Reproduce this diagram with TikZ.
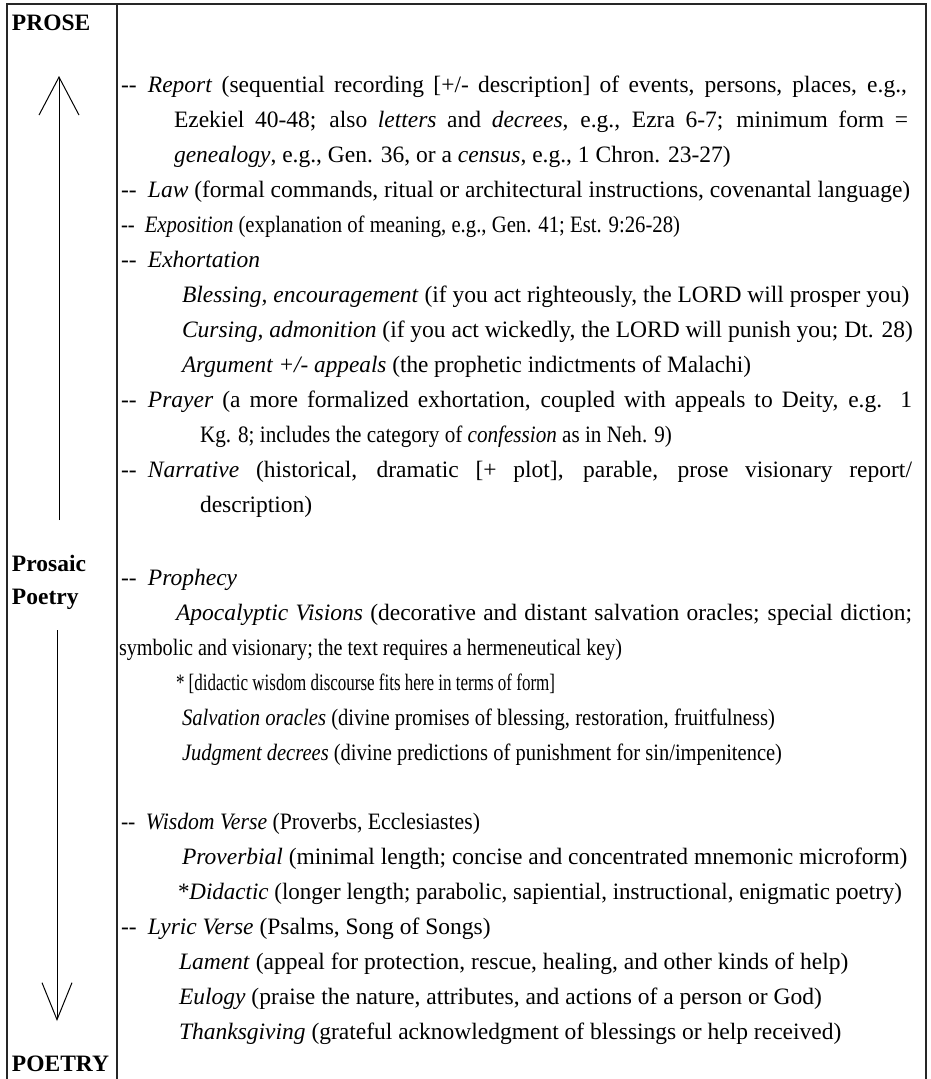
\documentclass[tikz,border=0pt]{standalone}
\usepackage{fontspec}
\setmainfont{Liberation Serif}
\usetikzlibrary{arrows.meta}
\newcommand\dgap{\hspace*{11.3pt}}
\newcommand\dd{-{}-}
\newcommand\bodyfont{\fontsize{23.5pt}{35pt}\selectfont}
\newcommand\lblfont{\fontsize{23.5pt}{35pt}\selectfont\bfseries}
\newcommand\just[2]{\makebox[#1][s]{#2}}
\newcommand\sq[2]{\resizebox{#1}{\height}{#2}}
\tikzset{
  txt/.style={anchor=base west, inner sep=0pt, outer sep=0pt, font=\bodyfont},
  lbl/.style={anchor=base west, inner sep=0pt, outer sep=0pt, font=\lblfont},
  frame/.style={line width=1.3pt, draw=black!85},
  axis/.style={line width=1pt, draw=black}
}
\begin{document}
\begin{tikzpicture}[x=1pt,y=-1pt]
\useasboundingbox (0,0) rectangle (930,1079);
% frame
\draw[frame] (7,1079) -- (7,4) -- (926,4) -- (926,1079);
\draw[frame] (117,4) -- (117,1079);
% labels
\node[lbl] (prose) at (12,30) {PROSE};
\node[lbl] (prosaic) at (12,571) {Prosaic};
\node[lbl] (poetry) at (12,604) {Poetry};
\node[lbl] (POETRY) at (12,1071) {POETRY};
% arrows
\coordinate (upTop) at (59,76);
\coordinate (upBot) at (59,520);
\coordinate (dnTop) at (57,630);
\coordinate (dnBot) at (57,1021);
\draw[axis,-{Straight Barb[length=38pt,width=40pt]}] (upBot) -- (upTop);
\draw[axis,-{Straight Barb[length=37pt,width=30pt]}] (dnTop) -- (dnBot);
% text lines
\node[txt] (l1) at (121,92) {\just{786pt}{\dd\dgap\textit{Report} (sequential recording [+/- description] of events, persons, places, e.g.,}};
\node[txt] (l2) at (174,127) {\just{734pt}{Ezekiel 40-48; also \textit{letters} and \textit{decrees}, e.g., Ezra 6-7; minimum form =}};
\node[txt] (l3) at (174,162) {\textit{genealogy}, e.g., Gen. 36, or a \textit{census}, e.g., 1 Chron. 23-27)};
\node[txt] (l4) at (121,197) {\dd\dgap\textit{Law} (formal commands, ritual or architectural instructions, covenantal language)};
\node[txt] (l5) at (121,232) {\sq{559pt}{\dd\dgap\textit{Exposition} (explanation of meaning, e.g., Gen. 41; Est. 9:26-28)}};
\node[txt] (l6) at (121,267) {\dd\dgap\textit{Exhortation}};
\node[txt] (l7) at (182,302) {\textit{Blessing, encouragement} (if you act righteously, the LORD will prosper you)};
\node[txt] (l8) at (182,337) {\textit{Cursing, admonition} (if you act wickedly, the LORD will punish you; Dt. 28)};
\node[txt] (l9) at (182,372) {\sq{569pt}{\textit{Argument +/- appeals} (the prophetic indictments of Malachi)}};
\node[txt] (l10) at (121,407) {\just{791pt}{\dd\dgap\textit{Prayer} (a more formalized exhortation, coupled with appeals to Deity, e.g.\ \ 1}};
\node[txt] (l11) at (200,442) {\sq{472pt}{Kg. 8; includes the category of \textit{confession} as in Neh. 9)}};
\node[txt] (l12) at (121,477) {\just{791pt}{\dd\dgap\textit{Narrative} (historical, dramatic [+ plot], parable, prose visionary report/}};
\node[txt] (l13) at (200,512) {description)};
\node[txt] (l14) at (121,585) {\dd\dgap\textit{Prophecy}};
\node[txt] (l15) at (176,620) {\just{736pt}{\textit{Apocalyptic Visions} (decorative and distant salvation oracles; special diction;}};
\node[txt] (l16) at (119,655) {\sq{503pt}{symbolic and visionary; the text requires a hermeneutical key)}};
\node[txt] (l17) at (176,690) {\sq{379pt}{* [didactic wisdom discourse fits here in terms of form]}};
\node[txt] (l18) at (182,725) {\sq{593pt}{\textit{Salvation oracles} (divine promises of blessing, restoration, fruitfulness)}};
\node[txt] (l19) at (182,760) {\sq{600pt}{\textit{Judgment decrees} (divine predictions of punishment for sin/impenitence)}};
\node[txt] (l20) at (121,829) {\sq{359pt}{\dd\dgap\textit{Wisdom Verse} (Proverbs, Ecclesiastes)}};
\node[txt] (l21) at (182,864) {\textit{Proverbial} (minimal length; concise and concentrated mnemonic microform)};
\node[txt] (l22) at (178,899) {\sq{724pt}{*\textit{Didactic} (longer length; parabolic, sapiential, instructional, enigmatic poetry)}};
\node[txt] (l23) at (121,934) {\dd\dgap\textit{Lyric Verse} (Psalms, Song of Songs)};
\node[txt] (l24) at (179,969) {\textit{Lament} (appeal for protection, rescue, healing, and other kinds of help)};
\node[txt] (l25) at (179,1004) {\textit{Eulogy} (praise the nature, attributes, and actions of a person or God)};
\node[txt] (l26) at (179,1039) {\textit{Thanksgiving} (grateful acknowledgment of blessings or help received)};
\end{tikzpicture}
\end{document}
